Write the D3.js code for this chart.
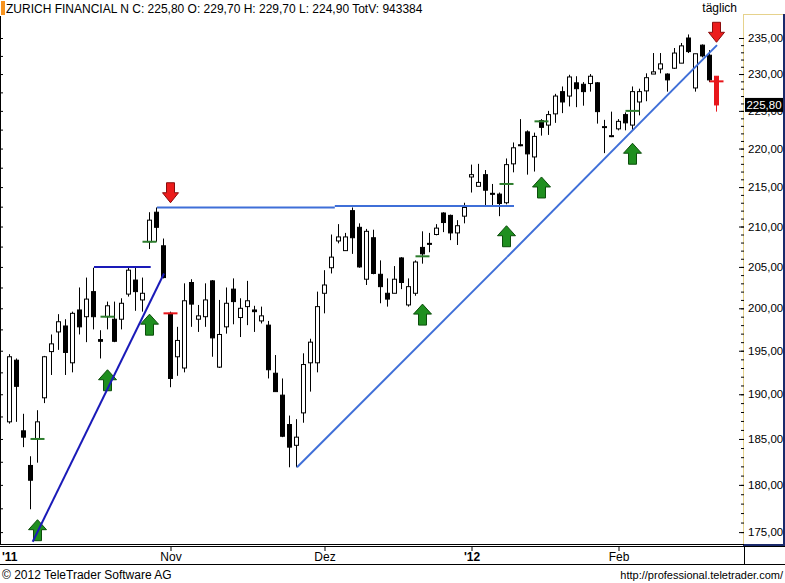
<!DOCTYPE html>
<html><head><meta charset="utf-8">
<script src="https://cdn.jsdelivr.net/npm/d3@7"></script>
<style>
html,body{margin:0;padding:0;background:#fff;}
svg{display:block;font-family:"Liberation Sans",Arial,sans-serif;}
</style></head><body>
<svg id="c" width="785" height="583"></svg>
<script>
// ---------- data ----------
const dates = ["2011-09-29","2011-09-30","2011-10-03","2011-10-04","2011-10-05","2011-10-06","2011-10-07","2011-10-10","2011-10-11","2011-10-12",
"2011-10-13","2011-10-14","2011-10-17","2011-10-18","2011-10-19","2011-10-20","2011-10-21","2011-10-24","2011-10-25","2011-10-26",
"2011-10-27","2011-10-28","2011-10-31","2011-11-01","2011-11-02","2011-11-03","2011-11-04","2011-11-07","2011-11-08","2011-11-09",
"2011-11-10","2011-11-11","2011-11-14","2011-11-15","2011-11-16","2011-11-17","2011-11-18","2011-11-21","2011-11-22","2011-11-23",
"2011-11-24","2011-11-25","2011-11-28","2011-11-29","2011-11-30","2011-12-01","2011-12-02","2011-12-05","2011-12-06","2011-12-07",
"2011-12-08","2011-12-09","2011-12-12","2011-12-13","2011-12-14","2011-12-15","2011-12-16","2011-12-19","2011-12-20","2011-12-21",
"2011-12-22","2011-12-23","2011-12-27","2011-12-28","2011-12-29","2011-12-30","2012-01-03","2012-01-04","2012-01-05","2012-01-06",
"2012-01-09","2012-01-10","2012-01-11","2012-01-12","2012-01-13","2012-01-16","2012-01-17","2012-01-18","2012-01-19","2012-01-20",
"2012-01-23","2012-01-24","2012-01-25","2012-01-26","2012-01-27","2012-01-30","2012-01-31","2012-02-01","2012-02-02","2012-02-03",
"2012-02-06","2012-02-07","2012-02-08","2012-02-09","2012-02-10","2012-02-13","2012-02-14","2012-02-15","2012-02-16","2012-02-17",
"2012-02-20","2012-02-21"];
const open = [186.9,193.9,185.9,182.1,185.0,189.6,194.9,197.2,197.9,193.6,
199.8,199.0,202.0,196.3,199.0,198.7,198.7,201.7,203.4,201.0,
208.1,211.8,207.6,199.4,194.3,193.0,203.1,198.7,199.0,203.3,
193.1,197.8,202.3,198.9,200.2,199.8,198.5,198.0,192.4,189.9,
186.6,184.3,187.9,193.6,193.6,201.8,204.9,208.2,207.0,212.0,
209.9,203.5,208.6,204.1,201.8,201.8,206.1,200.4,201.8,207.4,
207.9,209.0,211.7,211.4,209.2,211.3,216.3,215.1,216.6,214.2,
214.1,213.0,218.0,220.5,222.2,218.9,223.7,223.1,224.6,227.6,
227.0,228.8,228.6,228.7,228.8,222.8,221.6,222.6,224.5,223.1,
226.2,227.7,230.0,230.7,230.0,230.8,231.5,235.0,228.1,234.0,
232.6,229.7];
const high = [194.6,194.1,187.8,183.1,188.2,194.4,196.9,199.3,198.7,199.6,
202.5,203.7,204.9,197.4,200.8,200.8,201.2,204.9,204.9,203.7,
211.8,212.4,208.5,199.6,197.8,203.0,203.5,200.4,203.0,203.4,
201.0,202.5,203.6,201.2,203.3,200.3,200.2,198.5,194.5,191.8,
187.6,187.2,194.7,196.4,202.0,204.6,209.0,210.3,209.2,212.4,
210.4,209.7,209.6,205.8,203.6,205.1,206.2,203.6,205.8,209.4,
209.2,210.3,211.8,211.5,210.8,213.0,217.9,218.0,217.2,215.4,
214.3,218.7,220.8,223.9,222.4,222.1,223.9,225.0,227.3,228.3,
229.9,229.7,228.9,230.0,228.9,223.8,224.9,223.9,224.8,228.3,
228.0,230.1,232.9,232.9,230.1,233.6,234.3,235.5,232.8,234.1,
233.3,229.7];
const low = [186.7,186.9,184.1,177.4,182.4,189.0,192.2,195.1,192.2,192.5,
196.9,196.0,197.5,194.1,197.5,196.0,197.5,201.4,199.7,199.6,
207.2,208.1,203.6,190.8,192.1,192.5,197.8,197.2,197.8,194.3,
193.0,197.0,198.1,196.6,198.0,197.2,198.2,191.8,190.3,185.2,
181.9,181.9,186.8,190.3,192.5,199.4,204.2,207.9,207.0,206.6,
204.9,202.8,204.1,200.6,200.2,201.8,202.3,200.2,201.5,205.4,
206.8,208.9,209.3,208.3,207.7,210.4,214.3,215.1,212.7,212.7,
211.3,212.8,216.9,220.3,216.6,217.0,221.7,221.8,223.4,224.7,
225.6,225.5,225.7,227.6,223.3,219.4,221.5,222.4,222.4,222.4,
224.4,226.3,230.0,230.1,227.6,230.7,231.5,232.9,227.6,232.3,
228.9,224.9];
const close = [194.3,190.9,185.2,180.5,186.9,194.3,195.8,198.4,194.8,199.4,
197.8,201.1,199.0,196.1,200.3,196.1,200.6,204.6,202.0,201.8,
210.8,209.9,203.7,191.8,196.2,200.9,200.5,199.1,201.0,196.5,
196.9,200.6,200.8,200.0,200.9,199.6,199.1,192.8,190.3,185.3,
184.1,185.2,193.4,196.0,200.2,202.8,206.2,208.7,208.7,208.6,
205.0,209.4,204.2,202.6,201.1,203.5,203.1,202.6,205.6,206.6,
207.8,209.8,210.5,209.2,210.1,212.4,216.6,215.6,214.6,214.1,
212.9,217.9,220.1,220.4,219.3,221.6,222.8,224.5,227.0,226.2,
229.6,228.0,227.6,229.7,224.9,222.9,221.7,223.6,223.4,227.6,
227.6,229.5,230.3,231.4,229.2,232.9,233.9,233.1,232.8,232.5,
229.2,225.8];
const totalVolume = 943384;
const title = "ZURICH FINANCIAL N";
const periodLabel = "täglich";

const priceTicks = [175,180,185,190,195,200,205,210,215,220,225,230,235];
const monthTickDates = ["2011-09-29","2011-11-01","2011-12-01","2012-01-03","2012-02-01"];
const monthTickLabels = ["'11","Nov","Dez","'12","Feb"];
const monthTickIsYear = [true,false,false,true,false];

// signals (date, tip price)
const buyArrowDates = ["2011-10-05","2011-10-19","2011-10-27","2011-12-21","2012-01-10","2012-01-17","2012-02-03"];
const buyArrowPrices = [176.3,192.8,199.3,200.5,210.1,216.3,220.7];
const sellArrowDates = ["2011-11-01","2012-02-21"];
const sellArrowPrices = [213.0,234.4];
const buyMarkDates = ["2011-10-05","2011-10-19","2011-10-27","2011-12-21","2012-01-10","2012-01-17","2012-02-03"];
const buyMarkPrices = [185.0,199.0,208.1,206.3,215.4,223.6,225.0];
const sellMarkDates = ["2011-11-01","2012-02-21"];
const sellMarkPrices = [199.4,229.0];

// trend lines: start index (bar number from 0), start price, end index, end price, kind
const trendStartIdx = [3.24, 12, 21, 46.4, 41, 71];
const trendStartPrice = [174.0, 205.0, 212.4, 212.6, 181.9, 206.2];
const trendEndIdx = [22, 20.1, 46.4, 72, 71, 101];
const trendEndPrice = [204.2, 205.0, 212.4, 212.6, 206.2, 234.0];
const trendKind = ["dark","dark","light","light","light","light"];

// ---------- chart ----------
const svg = d3.select("#c");
const n = dates.length;
const x = d3.scalePoint().domain(dates).range([10, 717]);
const xi = d3.scaleLinear().domain([0, n - 1]).range([10, 717]);
const y = d3.scaleLog().domain([175, 235]).range([532.1, 38]);
const fmt = v => d3.format(".2f")(v).replace(".", ",");

// header
svg.append("rect").attr("x",1).attr("y",1).attr("width",4).attr("height",14).attr("fill","#f7931e");
svg.append("text").attr("x",6).attr("y",13).attr("font-size",12).attr("fill","#000")
  .text(`${title} C: ${fmt(close[n-1])} O: ${fmt(open[n-1])} H: ${fmt(high[n-1])} L: ${fmt(low[n-1])} TotV: ${totalVolume}`);
svg.append("text").attr("x",737).attr("y",12).attr("font-size",12).attr("text-anchor","end").text(periodLabel);

// left edge ticks
svg.append("line").attr("x1",0.5).attr("x2",0.5).attr("y1",16).attr("y2",545).attr("stroke","#000");
svg.append("g").attr("transform","translate(0,0)")
  .call(d3.axisRight(y).tickValues(d3.range(175, 235.1, 2.5)).tickSize(3).tickFormat(""))
  .call(g => g.select(".domain").remove())
  .selectAll("line").attr("stroke","#000");

// right panel
svg.append("rect").attr("x",743.5).attr("y",14.5).attr("width",40).attr("height",530).attr("fill","#fff").attr("stroke","none");
svg.append("line").attr("x1",743).attr("x2",784).attr("y1",14.5).attr("y2",14.5).attr("stroke","#e6d28c");
svg.append("line").attr("x1",743.5).attr("x2",743.5).attr("y1",14).attr("y2",545).attr("stroke","#e6d28c");
svg.append("line").attr("x1",784).attr("x2",784).attr("y1",14).attr("y2",546).attr("stroke","#1b2a6b").attr("stroke-width",2);
svg.append("line").attr("x1",743).attr("x2",785).attr("y1",545).attr("y2",545).attr("stroke","#1b2a6b").attr("stroke-width",2);

const minor = svg.append("g").attr("transform","translate(744,0)")
  .call(d3.axisRight(y).tickValues(d3.range(175, 236, 1)).tickSizeInner(-3).tickSizeOuter(0).tickFormat(""));
minor.select(".domain").remove();
minor.selectAll("line").attr("stroke","#000");
const major = svg.append("g").attr("transform","translate(744,0)")
  .call(d3.axisRight(y).tickValues(priceTicks).tickSizeInner(-5).tickSizeOuter(0).tickPadding(4).tickFormat(fmt));
major.select(".domain").remove();
major.selectAll("line").attr("stroke","#000");
major.selectAll("text").attr("font-size",11.5).attr("font-family","'Liberation Sans',Arial,sans-serif").attr("fill","#000");

// last price box
const lastY = y(close[n-1]);
svg.append("rect").attr("x",745).attr("y",lastY-7).attr("width",38).attr("height",14).attr("fill","#000");
svg.append("text").attr("x",764).attr("y",lastY+4.5).attr("text-anchor","middle").attr("font-size",11.5).attr("fill","#fff").text(fmt(close[n-1]));

// bottom frame
svg.append("line").attr("x1",0).attr("x2",744).attr("y1",544.5).attr("y2",544.5).attr("stroke","#000");
svg.append("line").attr("x1",0).attr("x2",785).attr("y1",546.5).attr("y2",546.5).attr("stroke","#000");
svg.append("line").attr("x1",0).attr("x2",785).attr("y1",564.5).attr("y2",564.5).attr("stroke","#000");
svg.append("line").attr("x1",744.5).attr("x2",744.5).attr("y1",546).attr("y2",565).attr("stroke","#000");

// x axis ticks + labels
const xa = svg.append("g").attr("transform","translate(0,547)")
  .call(d3.axisBottom(x).tickValues(monthTickDates.slice(1)).tickSize(4).tickFormat(""));
xa.select(".domain").remove();
xa.selectAll("line").attr("stroke","#000").attr("transform","translate(-0.5,0)");
svg.append("g").selectAll("text").data(monthTickDates).join("text")
  .attr("x",(d,i)=> i===0 ? 2 : x(d))
  .attr("y",561)
  .attr("text-anchor",(d,i)=> i===0 ? "start" : "middle")
  .attr("font-size",12)
  .attr("font-weight",(d,i)=> monthTickIsYear[i] ? "bold" : "normal")
  .text((d,i)=>monthTickLabels[i]);

// footer
svg.append("text").attr("x",2).attr("y",579).attr("font-size",12).text("© 2012 TeleTrader Software AG");
svg.append("text").attr("x",783).attr("y",579).attr("font-size",11).attr("text-anchor","end").text("http://professional.teletrader.com/");

// candles
const candles = dates.map((d,i)=>({d,o:open[i],h:high[i],l:low[i],c:close[i],last:i===n-1}));
const cg = svg.append("g");
cg.selectAll("line").data(candles).join("line")
  .attr("x1",d=>x(d.d)-0.5).attr("x2",d=>x(d.d)-0.5)
  .attr("y1",d=>y(d.h)).attr("y2",d=>y(d.l))
  .attr("stroke",d=>d.last?"#e8161b":"#000");
cg.selectAll("rect").data(candles).join("rect")
  .attr("x",d=>x(d.d)-2.5).attr("width",4)
  .attr("y",d=>y(Math.max(d.o,d.c)))
  .attr("height",d=>Math.max(1,Math.abs(y(d.o)-y(d.c))))
  .attr("fill",d=>d.last?"#e8161b":(d.c>d.o?"#fff":"#000"))
  .attr("stroke",d=>d.last?"#e8161b":"#000");

// marks
const mg = svg.append("g");
mg.selectAll("line.b").data(buyMarkDates).join("line").attr("class","b")
  .attr("x1",d=>x(d)-7.5).attr("x2",d=>x(d)+6.5)
  .attr("y1",(d,i)=>y(buyMarkPrices[i])).attr("y2",(d,i)=>y(buyMarkPrices[i]))
  .attr("stroke","#2d7d2d").attr("stroke-width",2);
mg.selectAll("line.s").data(sellMarkDates).join("line").attr("class","s")
  .attr("x1",d=>x(d)-7.5).attr("x2",d=>x(d)+6.5)
  .attr("y1",(d,i)=>y(sellMarkPrices[i])).attr("y2",(d,i)=>y(sellMarkPrices[i]))
  .attr("stroke","#e8161b").attr("stroke-width",2);

// arrows
const up = "M0,0 L9,10 L4,10 L4,21 L-4,21 L-4,10 L-9,10 Z";
const down = "M0,0 L-8,-10 L-4,-10 L-4,-20 L4,-20 L4,-10 L8,-10 Z";
const ag = svg.append("g");
ag.selectAll("path.b").data(buyArrowDates).join("path").attr("class","b")
  .attr("d",up)
  .attr("transform",(d,i)=>`translate(${x(d)-0.5},${y(buyArrowPrices[i])})`)
  .attr("fill","#1f8f1f").attr("stroke","#0b4d0b").attr("stroke-width",1);
ag.selectAll("path.s").data(sellArrowDates).join("path").attr("class","s")
  .attr("d",down)
  .attr("transform",(d,i)=>`translate(${x(d)-0.5},${y(sellArrowPrices[i])})`)
  .attr("fill","#ec1c1c").attr("stroke","#8a0c0c").attr("stroke-width",1);

// trend lines
const tg = svg.append("g");
tg.selectAll("line").data(trendStartIdx).join("line")
  .attr("x1",d=>xi(d)).attr("y1",(d,i)=>y(trendStartPrice[i]))
  .attr("x2",(d,i)=>xi(trendEndIdx[i])).attr("y2",(d,i)=>y(trendEndPrice[i]))
  .attr("stroke",(d,i)=>trendKind[i]==="dark"?"#1a1ab8":"#3f6fd8")
  .attr("stroke-width",2).attr("stroke-linecap","butt");
</script>
</body></html>
